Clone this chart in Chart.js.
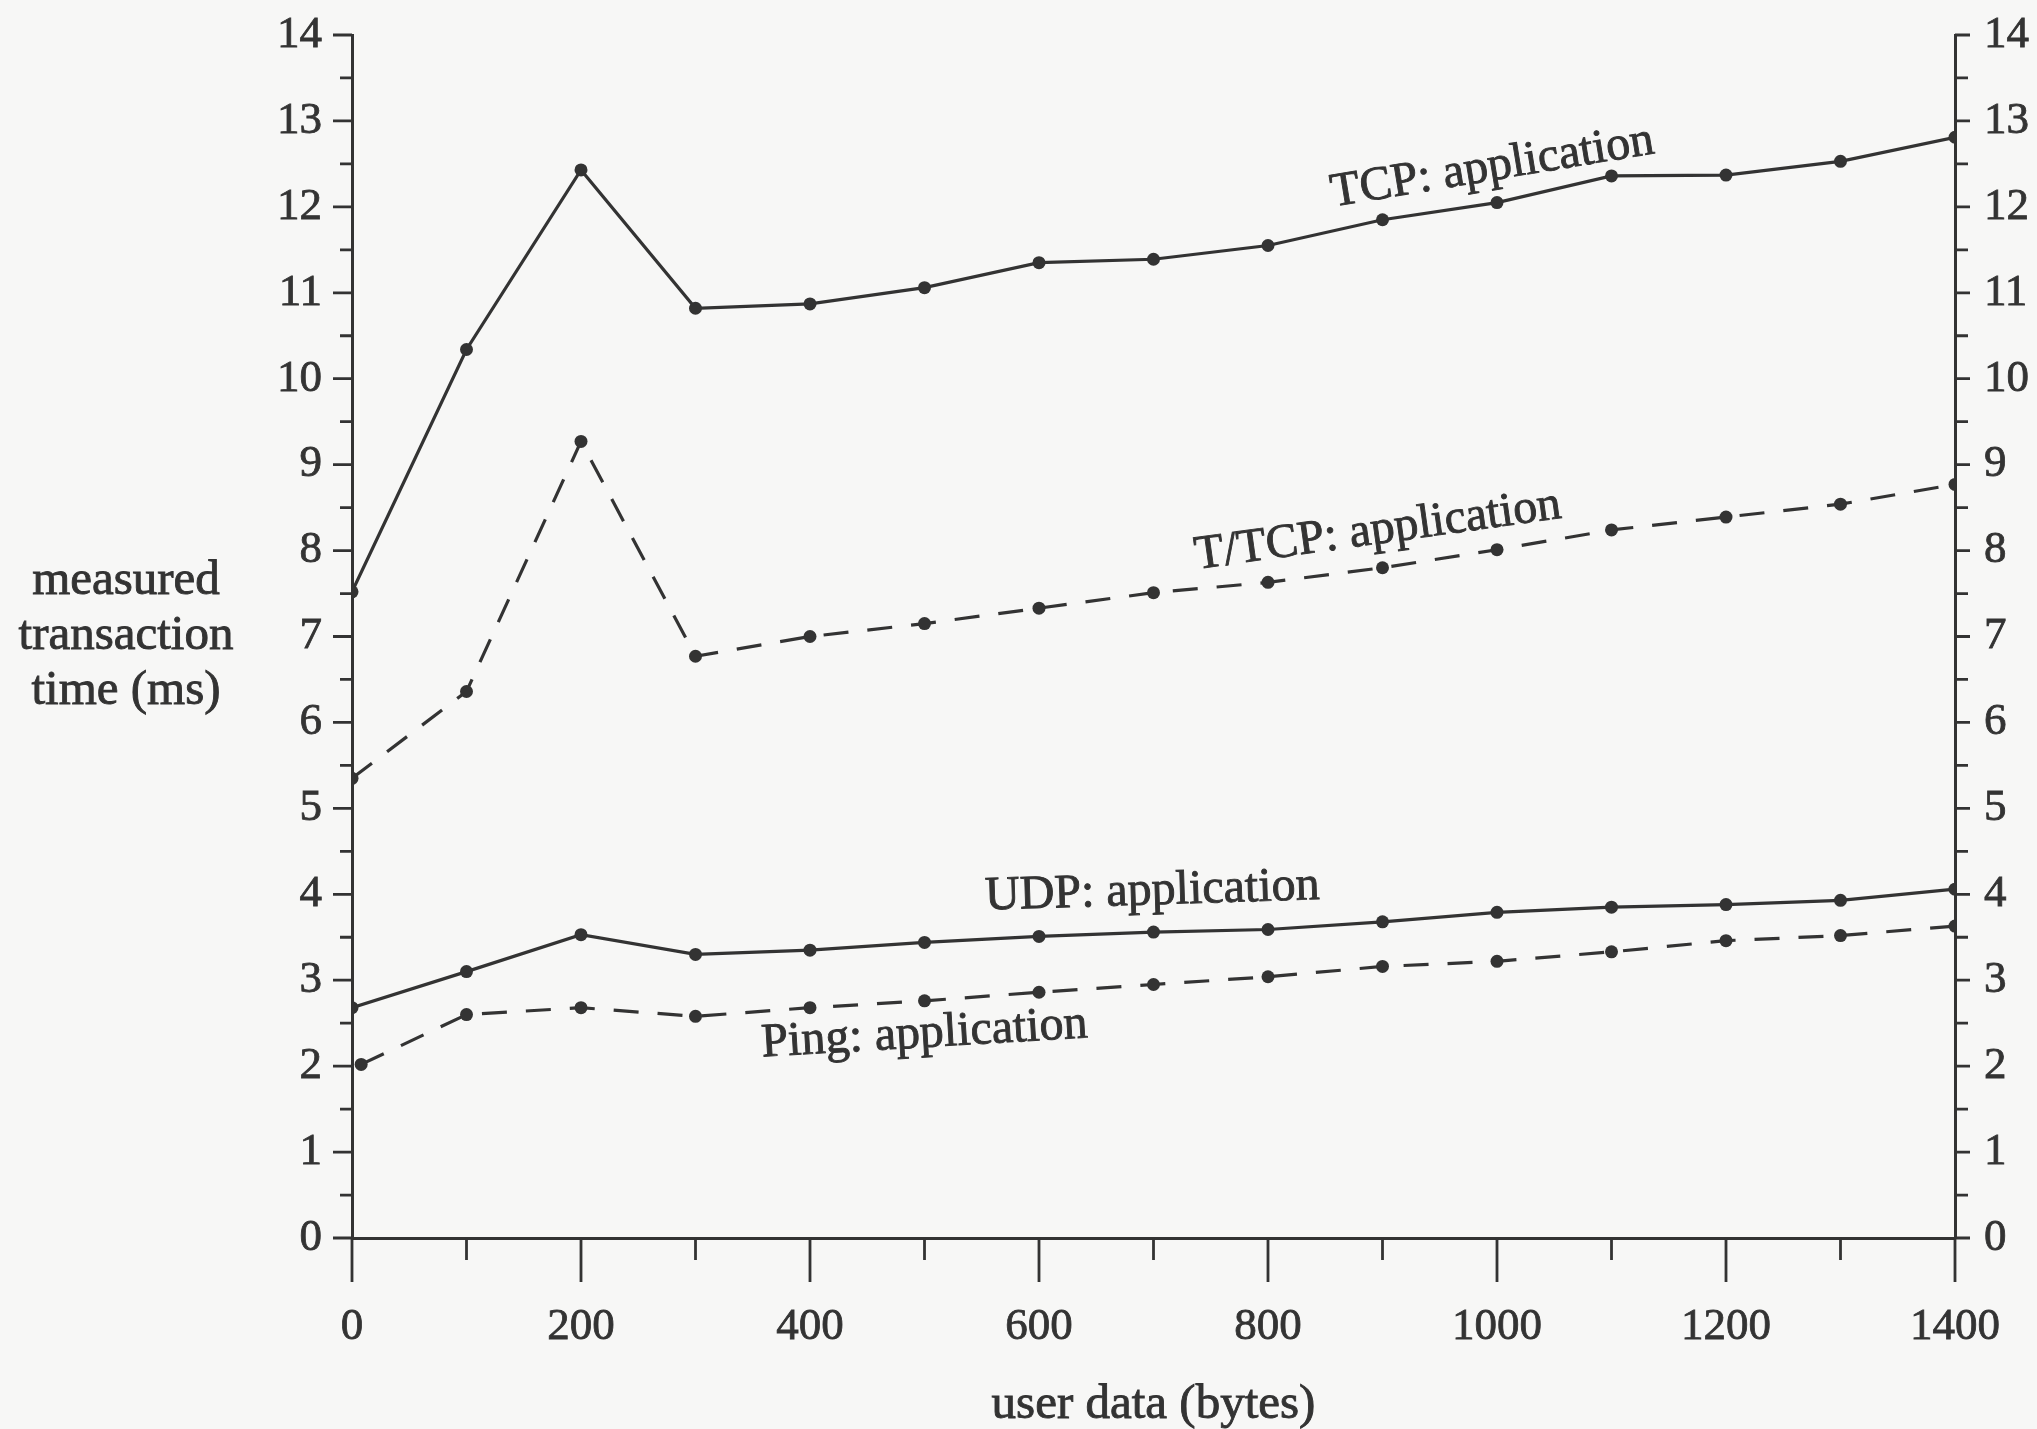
<!DOCTYPE html>
<html>
<head>
<meta charset="utf-8">
<script src="https://cdn.jsdelivr.net/npm/chart.js@4.4.1/dist/chart.umd.min.js"></script>
<style>
  html, body { margin: 0; padding: 0; background: #f7f7f6; }
  #wrap { width: 2037px; height: 1429px; position: relative; }
</style>
</head>
<body>
<div id="wrap"><canvas id="c" width="2037" height="1429"></canvas></div>
<script>
// ---- data ----
const userBytes = [0, 100, 200, 300, 400, 500, 600, 700, 800, 900, 1000, 1100, 1200, 1300, 1400];
const pingBytes = [8, 100, 200, 300, 400, 500, 600, 700, 800, 900, 1000, 1100, 1200, 1300, 1400];
const tcpApp  = [7.52, 10.34, 12.43, 10.82, 10.87, 11.06, 11.35, 11.39, 11.55, 11.85, 12.05, 12.36, 12.37, 12.53, 12.81];
const ttcpApp = [5.35, 6.36, 9.27, 6.77, 7.00, 7.15, 7.33, 7.51, 7.63, 7.80, 8.01, 8.24, 8.39, 8.54, 8.77];
const udpApp  = [2.68, 3.10, 3.53, 3.30, 3.35, 3.44, 3.51, 3.56, 3.59, 3.68, 3.79, 3.85, 3.88, 3.93, 4.06];
const pingApp = [2.02, 2.60, 2.68, 2.58, 2.68, 2.76, 2.86, 2.95, 3.04, 3.16, 3.22, 3.33, 3.46, 3.52, 3.63];
const seriesNames = ["TCP: application", "T/TCP: application", "UDP: application", "Ping: application"];
const yTickValues = [0, 1, 2, 3, 4, 5, 6, 7, 8, 9, 10, 11, 12, 13, 14];
const xTickValues = [0, 200, 400, 600, 800, 1000, 1200, 1400];
const yTitleLines = ["measured", "transaction", "time (ms)"];
const xTitle = "user data (bytes)";

// ---- styling ----
const INK = '#333333';
const TEXT = '#333333';
const BG = '#f7f7f6';
const FONT = '"Liberation Serif", "DejaVu Serif", serif';

function pts(xs, ys) { return xs.map((x, i) => ({ x: x, y: ys[i] })); }

function lineDs(label, data, dashed) {
  return {
    label: label,
    data: data,
    borderColor: INK,
    backgroundColor: INK,
    borderWidth: 3.2,
    borderDash: dashed ? [25, 19] : [],
    pointRadius: 6.5,
    pointBorderWidth: 0,
    pointBackgroundColor: INK,
    pointHoverRadius: 6.5,
    tension: 0,
    fill: false
  };
}

// annotation placement (in data units) for the rotated series labels
const labelPlacement = [
  { x: 996, y: 12.46, angle: -9.4 },
  { x: 896, y: 8.23,  angle: -8.0 },
  { x: 699, y: 4.03,  angle: -1.8 },
  { x: 500, y: 2.37,  angle: -3.4 }
];

function zeroPad(s) { s.paddingTop = 0; s.paddingBottom = 0; s.paddingLeft = 0; s.paddingRight = 0; }

const decorPlugin = {
  id: 'decor',
  beforeDraw(chart) {
    const ctx = chart.ctx;
    ctx.save();
    ctx.fillStyle = BG;
    ctx.fillRect(0, 0, chart.width, chart.height);
    ctx.restore();
  },
  afterDraw(chart) {
    const ctx = chart.ctx;
    const xs = chart.scales.x, ys = chart.scales.y;
    const left = chart.chartArea.left, right = chart.chartArea.right;
    const bottom = chart.chartArea.bottom;
    ctx.save();
    ctx.strokeStyle = INK;
    ctx.lineWidth = 2.8;
    ctx.lineCap = 'butt';
    // y ticks (major + half-unit minor), both sides
    for (let v = ys.min; v <= ys.max + 1e-9; v += 0.5) {
      const py = ys.getPixelForValue(v);
      const major = Math.abs(v - Math.round(v)) < 1e-9;
      ctx.beginPath();
      ctx.moveTo(left - (major ? 19 : 12), py);
      ctx.lineTo(left, py);
      ctx.moveTo(right, py);
      ctx.lineTo(right + (major ? 15 : 13), py);
      ctx.stroke();
    }
    // x ticks (major every 200, minor every 100), downward
    for (let v = xs.min; v <= xs.max + 1e-9; v += 100) {
      const px = xs.getPixelForValue(v);
      const major = (Math.round(v) % 200) === 0;
      ctx.beginPath();
      ctx.moveTo(px, bottom);
      ctx.lineTo(px, bottom + (major ? 44 : 22));
      ctx.stroke();
    }
    // series labels
    ctx.fillStyle = TEXT;
    ctx.strokeStyle = TEXT;
    ctx.lineWidth = 0.9;
    ctx.font = '48px ' + FONT;
    ctx.textAlign = 'center';
    ctx.textBaseline = 'middle';
    seriesNames.forEach((name, i) => {
      const p = labelPlacement[i];
      ctx.save();
      ctx.translate(xs.getPixelForValue(p.x), ys.getPixelForValue(p.y));
      ctx.rotate(p.angle * Math.PI / 180);
      ctx.fillText(name, 0, 0);
      ctx.strokeText(name, 0, 0);
      ctx.restore();
    });
    // y axis title (horizontal, three lines), centred on y = 7
    ctx.font = '49px ' + FONT;
    const yc = ys.getPixelForValue(7);
    const lh = 55;
    yTitleLines.forEach((t, i) => {
      ctx.fillText(t, 126, yc + (i - 1) * lh);
      ctx.strokeText(t, 126, yc + (i - 1) * lh);
    });
    // x axis title
    ctx.fillText(xTitle, (left + right) / 2, 1405);
    ctx.strokeText(xTitle, (left + right) / 2, 1405);
    ctx.restore();
  }
};

const tickFont = { family: FONT, size: 45 };
const plainNum = v => String(v);

new Chart(document.getElementById('c'), {
  type: 'line',
  data: {
    datasets: [
      lineDs(seriesNames[0], pts(userBytes, tcpApp), false),
      lineDs(seriesNames[1], pts(userBytes, ttcpApp), true),
      lineDs(seriesNames[2], pts(userBytes, udpApp), false),
      lineDs(seriesNames[3], pts(pingBytes, pingApp), true)
    ]
  },
  options: {
    responsive: false,
    animation: false,
    devicePixelRatio: 1,
    layout: { padding: { top: 35, left: 0, right: 0, bottom: 0 } },
    plugins: { legend: { display: false }, tooltip: { enabled: false }, title: { display: false } },
    scales: {
      x: {
        type: 'linear', position: 'bottom', min: 0, max: 1400,
        afterBuildTicks: s => { s.ticks = xTickValues.map(v => ({ value: v })); },
        afterFit: s => { s.height = 191; zeroPad(s); },
        border: { display: true, color: INK, width: 3 },
        grid: { display: true, drawOnChartArea: false, drawTicks: false },
        ticks: { font: tickFont, color: TEXT, padding: 62, maxRotation: 0, autoSkip: false,
                 callback: plainNum, textStrokeColor: TEXT, textStrokeWidth: 0.8 }
      },
      y: {
        type: 'linear', position: 'left', min: 0, max: 14,
        afterBuildTicks: s => { s.ticks = yTickValues.map(v => ({ value: v })); },
        afterFit: s => { s.width = 352; zeroPad(s); },
        border: { display: true, color: INK, width: 3 },
        grid: { display: true, drawOnChartArea: false, drawTicks: false },
        ticks: { font: tickFont, color: TEXT, padding: 30, autoSkip: false,
                 callback: plainNum, textStrokeColor: TEXT, textStrokeWidth: 0.8 }
      },
      y2: {
        type: 'linear', position: 'right', min: 0, max: 14,
        afterBuildTicks: s => { s.ticks = yTickValues.map(v => ({ value: v })); },
        afterFit: s => { s.width = 82; zeroPad(s); },
        border: { display: true, color: INK, width: 3 },
        grid: { display: true, drawOnChartArea: false, drawTicks: false },
        ticks: { font: tickFont, color: TEXT, padding: 29, autoSkip: false,
                 callback: plainNum, textStrokeColor: TEXT, textStrokeWidth: 0.8 }
      }
    }
  },
  plugins: [decorPlugin]
});
</script>
</body>
</html>
